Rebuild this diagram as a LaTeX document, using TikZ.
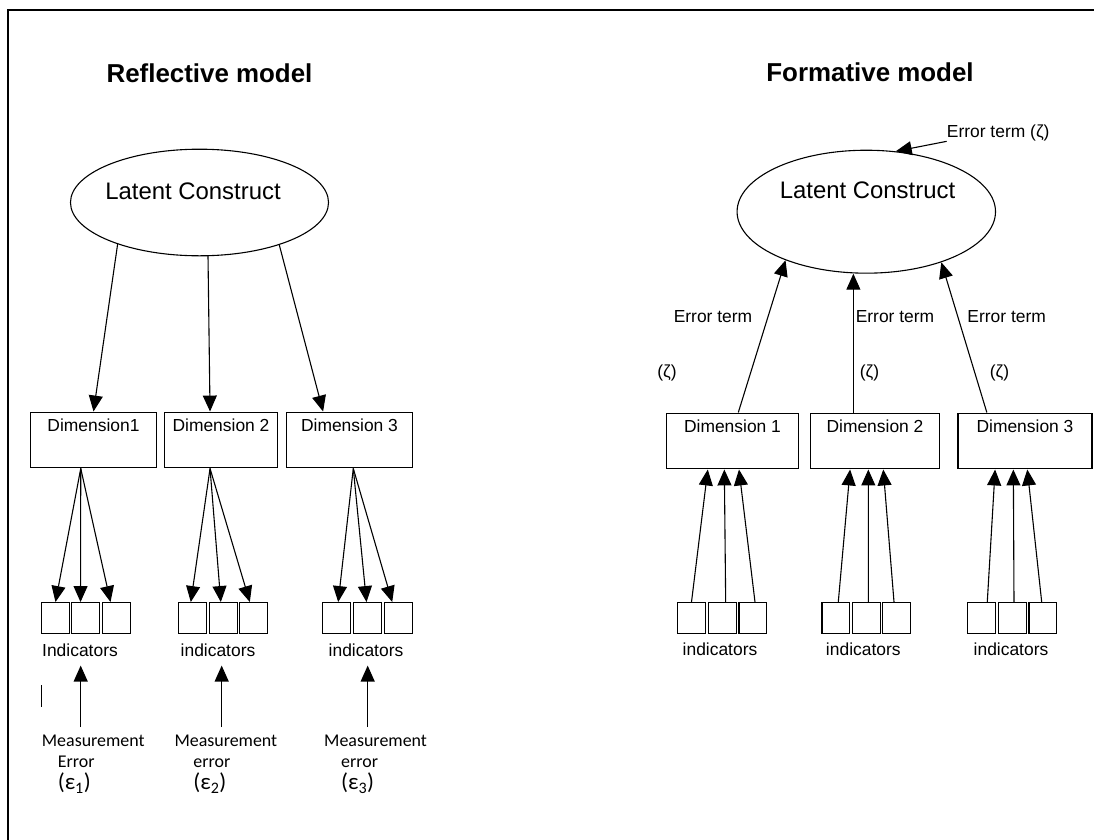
\documentclass[tikz,border=0pt]{standalone}
\usepackage{fontspec}
\setmainfont{Liberation Sans}
\newfontfamily\calfont{Carlito}
\newcommand\epsfont{\calfont\fontsize{23}{26}\selectfont}
\usetikzlibrary{arrows.meta,shapes.geometric,positioning}

\begin{document}
\begin{tikzpicture}[x=1bp,y=-1bp,
  arr/.style={-{Triangle[length=16pt,width=14pt]},line width=1.1pt},
  dimbox/.style={draw,line width=1.2pt,inner sep=0pt,minimum height=56,text height=19,text depth=37,font=\fontsize{17.5}{20}\selectfont},
  indbox/.style={draw,line width=1.1pt,inner sep=0pt,minimum width=28,minimum height=31},
  lbl/.style={inner sep=0pt,font=\fontsize{17.5}{20}\selectfont},
  meas/.style={inner sep=0pt,align=left,anchor=north west,font=\calfont\fontsize{18}{21}\selectfont},
  lc/.style={ellipse,draw,line width=1.1pt,inner sep=0pt},
  big/.style={inner sep=0pt,font=\fontsize{24}{28}\selectfont},
  head/.style={inner sep=0pt,font=\bfseries\fontsize{26}{30}\selectfont}]
\useasboundingbox (0,0) rectangle (1094,840);
%frame
\draw[line width=1.3pt] (8,840) -- (8,10) -- (1094,10);
%%%%%%%% reflective model
\node[head] (refl) at (209.5,73) {Reflective model};
\node[lc,minimum width=259,minimum height=107] (lcL) at (199.5,202.5) {};
\node[big] (lcLt) at (193,191) {Latent Construct};
%dimensions
\node[dimbox,minimum width=127] (d1) at (93.5,440) {Dimension1};
\node[dimbox,minimum width=114] (d2) at (221,440) {Dimension 2};
\node[dimbox,minimum width=127] (d3) at (349.5,440) {Dimension 3};
\draw[arr] (lcL.207.6) -- (d1.north);
\draw[arr] (lcL.279.5) -- ([xshift=-11]d2.north);
\draw[arr] (lcL.332.7) -- ([xshift=-26.5]d3.north);
%indicators
\node[indbox] (i11) at (55.5,618) {}; \node[indbox] (i12) at (85.5,618) {}; \node[indbox] (i13) at (116.5,618) {};
\node[indbox] (i21) at (192.8,618) {}; \node[indbox] (i22) at (223.3,618) {}; \node[indbox] (i23) at (253.8,618) {};
\node[indbox] (i31) at (336.7,618) {}; \node[indbox] (i32) at (367.5,618) {}; \node[indbox] (i33) at (398.2,618) {};
\draw[arr] ([xshift=-12.8]d1.south) -- (i11.north);
\draw[arr] ([xshift=-12.8]d1.south) -- ([xshift=-5]i12.north);
\draw[arr] ([xshift=-12.8]d1.south) -- ([xshift=-6]i13.north);
\draw[arr] ([xshift=-11]d2.south) -- ([xshift=-2]i21.north);
\draw[arr] ([xshift=-11]d2.south) -- ([xshift=-2.5]i22.north);
\draw[arr] ([xshift=-11]d2.south) -- ([xshift=-4]i23.north);
\draw[arr] ([xshift=3.8]d3.south) -- ([xshift=1.5]i31.north);
\draw[arr] ([xshift=3.8]d3.south) -- ([xshift=-1]i32.north);
\draw[arr] ([xshift=3.8]d3.south) -- ([xshift=-6]i33.north);
\node[lbl] (ind1) at (80,650) {Indicators};
\node[lbl] (ind2) at (218,650) {indicators};
\node[lbl] (ind3) at (366,650) {indicators};
%measurement error
\draw[line width=1.2pt] (41.7,685) -- (41.7,707);
\coordinate (e1) at (80.7,727); \coordinate (e2) at (221.7,727); \coordinate (e3) at (367.7,727);
\draw[arr] (e1) -- ([yshift=-9]e1 |- ind1.south);
\draw[arr] (e2) -- ([yshift=-9]e2 |- ind2.south);
\draw[arr] (e3) -- ([yshift=-9]e3 |- ind3.south);
\node[meas] (m1) at (41.7,735) {Measurement\\\hspace*{16pt}Error\\[1pt]\hspace*{16pt}{\epsfont(ε\textsubscript{1})}};
\node[meas] (m2) at (174.3,735) {Measurement\\\hspace*{19pt}error\\[1pt]\hspace*{19pt}{\epsfont(ε\textsubscript{2})}};
\node[meas] (m3) at (324,735) {Measurement\\\hspace*{17pt}error\\[1pt]\hspace*{17pt}{\epsfont(ε\textsubscript{3})}};
%%%%%%%% formative model
\node[head] (form) at (870,72.7) {Formative model};
\node[lc,minimum width=259.4,minimum height=123.4] (lcR) at (866.3,211.7) {};
\node[big] (lcRt) at (867.5,190.7) {Latent Construct};
\node[lbl,anchor=west] (errT) at (946.7,133) {Error term (ζ)};
\draw[arr] (errT.south west) -- (lcR.64.8);
%dimensions
\node[dimbox,minimum width=133] (f1) at (732.5,441) {Dimension 1};
\node[dimbox,minimum width=130] (f2) at (875,441) {Dimension 2};
\node[dimbox,minimum width=134.6] (f3) at (1025,441) {Dimension 3};
\draw[arr] ([xshift=5.8]f1.north) -- (lcR.211.6);
\draw[arr] ([xshift=-21.7]f2.north) -- ([xshift=-21.7]f2.north |- lcR.south);
\draw[arr] ([xshift=-38.3]f3.north) -- (lcR.326.5);
\node[lbl] (et1) at (713,316.7) {Error term}; \node[lbl] (et2) at (895,316.7) {Error term}; \node[lbl] (et3) at (1006.7,316.7) {Error term};
\node[lbl] (z1) at (667,372.7) {(ζ)}; \node[lbl] (z2) at (869.5,372.7) {(ζ)}; \node[lbl] (z3) at (999.5,372.7) {(ζ)};
%indicators
\node[indbox] (j11) at (691.5,618) {}; \node[indbox] (j12) at (722.5,618) {}; \node[indbox] (j13) at (752.9,618) {};
\node[indbox] (j21) at (835.9,618) {}; \node[indbox] (j22) at (866.2,618) {}; \node[indbox] (j23) at (896.7,618) {};
\node[indbox] (j31) at (981.7,618) {}; \node[indbox] (j32) at (1012.5,618) {}; \node[indbox] (j33) at (1042.9,618) {};
\draw[arr] (j11.north) -- ([xshift=-24.8]f1.south);
\draw[arr] ([xshift=3.2]j12.north) -- ([xshift=-8.2]f1.south);
\draw[arr] ([xshift=2.1]j13.north) -- ([xshift=6.5]f1.south);
\draw[arr] ([xshift=2.4]j21.north) -- ([xshift=-25]f2.south);
\draw[arr] ([xshift=2.1]j22.north) -- ([xshift=-6.7]f2.south);
\draw[arr] ([xshift=-2.7]j23.north) -- ([xshift=8.3]f2.south);
\draw[arr] ([xshift=5.6]j31.north) -- ([xshift=-30]f3.south);
\draw[arr] ([xshift=1.5]j32.north) -- ([xshift=-11.7]f3.south);
\draw[arr] ([xshift=-1.2]j33.north) -- ([xshift=2.3]f3.south);
\node[lbl] (jnd1) at (720,649.3) {indicators};
\node[lbl] (jnd2) at (863.3,649.3) {indicators};
\node[lbl] (jnd3) at (1011,649.3) {indicators};
\end{tikzpicture}
\end{document}
